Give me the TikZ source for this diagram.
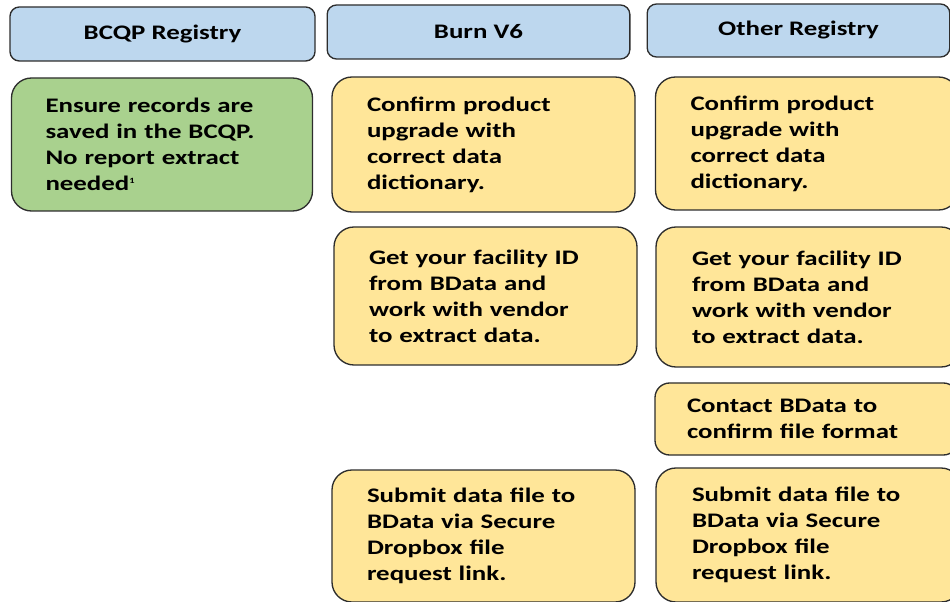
\documentclass[tikz,border=0pt]{standalone}
\usepackage{fontspec}
\setmainfont{Carlito}[FakeStretch=1.3]
\usepackage{tikz}
\usetikzlibrary{positioning}
\definecolor{hdrblue}{RGB}{189,215,238}
\definecolor{stepyellow}{RGB}{255,230,153}
\definecolor{okgreen}{RGB}{169,209,142}
\definecolor{edge}{RGB}{45,45,45}

\begin{document}
\begin{tikzpicture}[x=0.75pt,y=-0.75pt,
		hdr/.style={draw=edge,line width=1pt,fill=hdrblue,rounded corners=7pt,
			minimum width=227pt,minimum height=40.5pt,align=center,
			font=\fontsize{15.5}{19.5}\selectfont\bfseries},
		stepbox/.style={draw=edge,line width=1pt,fill=stepyellow,rounded corners=15pt,
			inner xsep=26.25pt,inner ysep=0pt,text width=174.75pt,align=left,
			font=\fontsize{15.5}{19.5}\selectfont\bfseries},
		okbox/.style={stepbox,fill=okgreen}]
	\useasboundingbox (0,0) rectangle (950,602);
	\clip (0,0) rectangle (950,602);
	
	% registries
	
	\node[hdr,minimum width=228.75pt] (H1) at (162.5,34) {BCQP Registry};
	\node[hdr] (H2) at (478.5,32) {Burn V6};
	\node[hdr,minimum height=39.75pt] (H3) at (798.5,30.5) {Other Registry};
	
	% BCQP
	
	\node[okbox,minimum height=99.75pt,inner xsep=25.5pt] (B1) at (162,144.5)
		{Ensure records are\\saved in the BCQP.\\No report extract\\needed\raisebox{0.7ex}{\fontsize{6}{6}\selectfont 1}};
	
	% Burn V6
	
	\node[stepbox,minimum height=101.25pt] (V1) at (483.5,144.5)
		{Confirm product\\upgrade with\\correct data\\dictionary.};
	\node[stepbox,minimum height=103.5pt] (V2) at (485.5,296)
		{Get your facility ID\\from BData and\\work with vendor\\to extract data.};
	\node[stepbox,minimum height=99pt] (V3) at (483.5,536)
		{Submit data file to\\BData via Secure\\Dropbox file\\request link.};
	
	% other
	
	\node[stepbox,minimum height=99.75pt] (R1) at (807,143.5)
		{Confirm product\\upgrade with\\correct data\\dictionary.};
	\node[stepbox,minimum height=105pt,inner xsep=27pt] (R2) at (808.5,297)
		{Get your facility ID\\from BData and\\work with vendor\\to extract data.};
	\node[stepbox,minimum height=54pt,inner xsep=24pt,text width=179.25pt,rounded corners=11pt] (R3) at (806.5,419)
		{Contact BData to\\confirm file format};
	\node[stepbox,minimum height=100.5pt,inner xsep=27pt] (R4) at (808.5,535)
		{Submit data file to\\BData via Secure\\Dropbox file\\request link.};
	
\end{tikzpicture}
\end{document}
